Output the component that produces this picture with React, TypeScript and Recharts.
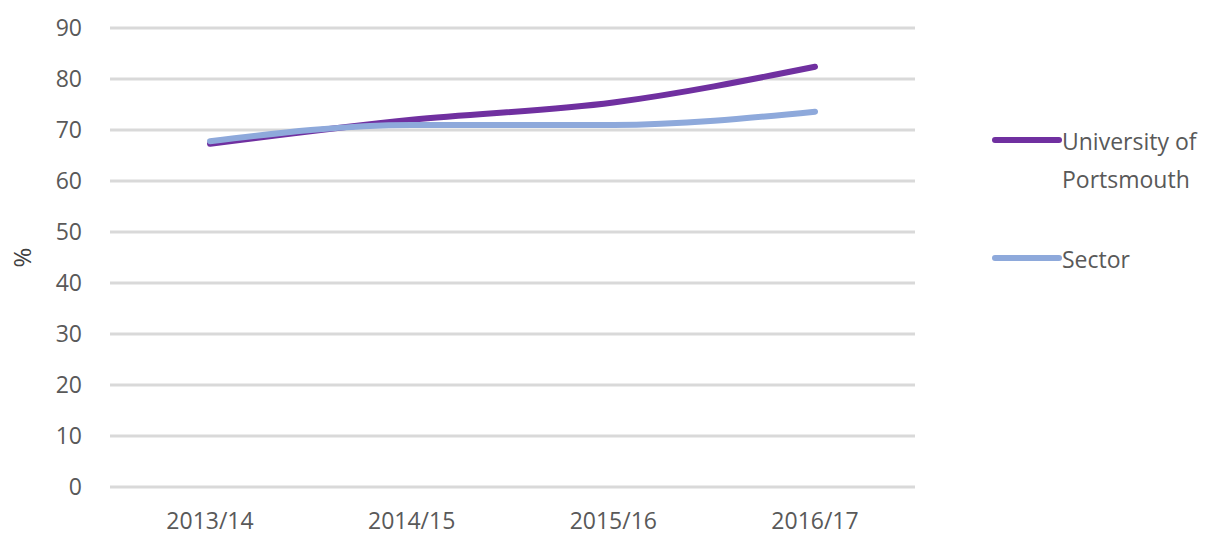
import { CartesianGrid, Label, Line, LineChart, XAxis, YAxis } from "recharts";

const years = ["2013/14", "2014/15", "2015/16", "2016/17"];
const portsmouth = [67.3, 72.0, 75.4, 82.4];
const sector = [67.8, 71.0, 71.0, 73.6];
const yTicks = [0, 10, 20, 30, 40, 50, 60, 70, 80, 90];

const data = years.map((year, i) => ({
  year,
  portsmouth: portsmouth[i],
  sector: sector[i]
}));

const font = "'Open Sans', 'Noto Sans', sans-serif";
const textColor = "#595959";
const purple = "#7030A0";
const blue = "#8EA9DB";

function SideLegend() {
  const row = (color: string, lines: string[]) => (
    <div style={{ display: "flex", alignItems: "flex-start" }}>
      <div
        style={{
          width: 70,
          height: 6,
          borderRadius: 3,
          background: color,
          marginTop: 15,
          flex: "none"
        }}
      />
      <div style={{ lineHeight: "38px" }}>
        {lines.map((l) => (
          <div key={l}>{l}</div>
        ))}
      </div>
    </div>
  );
  return (
    <div
      style={{
        position: "absolute",
        left: 992,
        top: 122,
        width: 230,
        fontFamily: font,
        fontSize: 23,
        color: textColor
      }}
    >
      {row(purple, ["University of", "Portsmouth"])}
      <div style={{ height: 42 }} />
      {row(blue, ["Sector"])}
    </div>
  );
}

export default function App() {
  return (
    <div style={{ position: "absolute", left: 0, top: 0, width: 1222, height: 535, background: "#fff" }}>
      <LineChart
        width={1222}
        height={535}
        data={data}
        margin={{ top: 28, right: 307, bottom: 18, left: 0 }}
      >
        <CartesianGrid vertical={false} stroke="#d9d9d9" strokeWidth={3} />
        <XAxis
          dataKey="year"
          axisLine={false}
          tickLine={false}
          tickMargin={20}
          padding={{ left: 100, right: 100 }}
          interval={0}
          tick={{ fontFamily: font, fontSize: 23, fill: textColor }}
        />
        <YAxis
          width={110}
          domain={[0, 90]}
          ticks={yTicks}
          interval={0}
          axisLine={false}
          tickLine={false}
          tickMargin={22}
          tick={{ fontFamily: font, fontSize: 23, fill: textColor }}
        >
          <Label
            value="%"
            angle={-90}
            position="insideLeft"
            offset={22}
            style={{ fontFamily: font, fontSize: 24, fill: "#404040", textAnchor: "middle" }}
          />
        </YAxis>
        <Line
          type="monotone"
          dataKey="portsmouth"
          name="University of Portsmouth"
          stroke={purple}
          strokeWidth={6}
          strokeLinecap="round"
          dot={false}
          isAnimationActive={false}
        />
        <Line
          type="monotone"
          dataKey="sector"
          name="Sector"
          stroke={blue}
          strokeWidth={6}
          strokeLinecap="round"
          dot={false}
          isAnimationActive={false}
        />
      </LineChart>
      <SideLegend />
    </div>
  );
}
